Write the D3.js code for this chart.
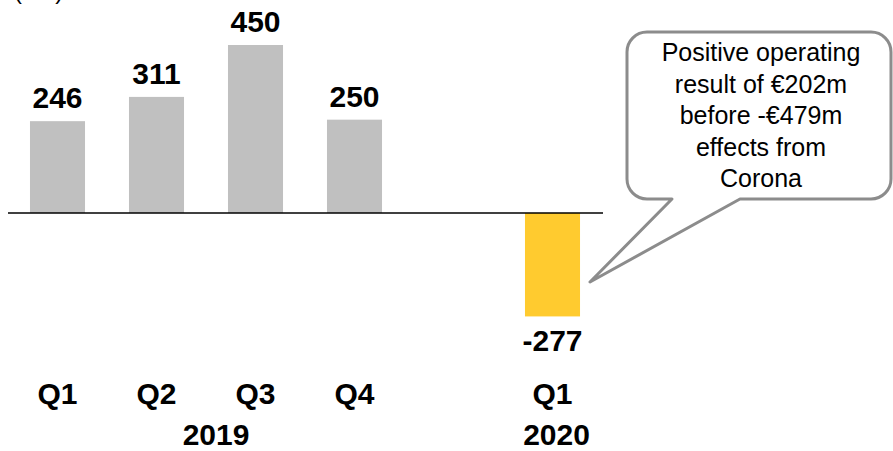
<!DOCTYPE html>
<html>
<head>
<meta charset="utf-8">
<script src="https://cdn.jsdelivr.net/npm/d3@7"></script>
<style>
  html, body { margin: 0; padding: 0; background: #fff; }
  svg { display: block; font-family: "Liberation Sans", Arial, sans-serif; }
</style>
</head>
<body>
<svg id="chart" width="893" height="451"></svg>
<script>
// ---- data ----
const categories = ["Q1 2019", "Q2 2019", "Q3 2019", "Q4 2019", "gap", "Q1 2020"];
const quarterLabels = ["Q1", "Q2", "Q3", "Q4", "", "Q1"];
const values = [246, 311, 450, 250, null, -277];
const valueLabels = ["246", "311", "450", "250", "", "-277"];
const years = [
  { label: "2019", from: "Q1 2019", to: "Q4 2019" },
  { label: "2020", from: "Q1 2020", to: "Q1 2020" }
];
const unitLabel = "(€m)";
const calloutLines = ["Positive operating", "result of €202m", "before -€479m", "effects from", "Corona"];

// ---- layout ----
const svg = d3.select("#chart");
const x = d3.scaleBand().domain(categories).range([8, 602]).paddingInner(0.444).paddingOuter(0.222);
const y = d3.scaleLinear().domain([0, 450]).range([213, 45]);

const colorFor = c => c === "Q1 2020" ? "#ffcb2f" : "#c0c0c0";

// unit label (mostly cut off at top)
svg.append("text").attr("x", 14).attr("y", -1)
  .attr("font-size", 24).attr("fill", "#000").text(unitLabel);

const data = categories.map((c, i) => ({ c, v: values[i], lab: valueLabels[i], q: quarterLabels[i] }));
const barsData = data.filter(d => d.v !== null);

// bars
svg.selectAll("rect.bar").data(barsData).enter().append("rect")
  .attr("class", "bar")
  .attr("x", d => x(d.c))
  .attr("width", x.bandwidth())
  .attr("y", d => Math.min(y(d.v), y(0)))
  .attr("height", d => Math.abs(y(d.v) - y(0)))
  .attr("fill", d => colorFor(d.c));

// baseline
svg.append("line")
  .attr("x1", 8).attr("x2", 603)
  .attr("y1", y(0)).attr("y2", y(0))
  .attr("stroke", "#000").attr("stroke-width", 1.5);

// value labels
svg.selectAll("text.val").data(barsData).enter().append("text")
  .attr("class", "val")
  .attr("x", d => x(d.c) + x.bandwidth() / 2)
  .attr("y", d => d.v >= 0 ? y(d.v) - 13 : y(d.v) + 35)
  .attr("text-anchor", "middle")
  .attr("font-size", 30).attr("font-weight", "bold").attr("fill", "#000")
  .text(d => d.lab);

// quarter labels
svg.selectAll("text.q").data(data.filter(d => d.q)).enter().append("text")
  .attr("class", "q")
  .attr("x", d => x(d.c) + x.bandwidth() / 2)
  .attr("y", 404)
  .attr("text-anchor", "middle")
  .attr("font-size", 30).attr("font-weight", "bold").attr("fill", "#000")
  .text(d => d.q);

// year labels
const yearOffsets = { "2019": 10, "2020": 4 };
svg.selectAll("text.yr").data(years).enter().append("text")
  .attr("class", "yr")
  .attr("x", d => (x(d.from) + x(d.to) + x.bandwidth()) / 2 + yearOffsets[d.label])
  .attr("y", 445)
  .attr("text-anchor", "middle")
  .attr("font-size", 30).attr("font-weight", "bold").attr("fill", "#000")
  .text(d => d.label);

// callout
const bx0 = 627, bx1 = 891, by0 = 32, by1 = 199, r = 20;
const tip = [590, 282], tailL = 672, tailR = 740;
const p = d3.path();
p.moveTo(tailL, by1);
p.lineTo(tip[0], tip[1]);
p.lineTo(tailR, by1);
p.lineTo(bx1 - r, by1);
p.arcTo(bx1, by1, bx1, by1 - r, r);
p.lineTo(bx1, by0 + r);
p.arcTo(bx1, by0, bx1 - r, by0, r);
p.lineTo(bx0 + r, by0);
p.arcTo(bx0, by0, bx0, by0 + r, r);
p.lineTo(bx0, by1 - r);
p.arcTo(bx0, by1, bx0 + r, by1, r);
p.closePath();
svg.append("path").attr("d", p.toString())
  .attr("fill", "#fff").attr("stroke", "#8c8c8c").attr("stroke-width", 3)
  .attr("stroke-linejoin", "round");

svg.selectAll("text.call").data(calloutLines).enter().append("text")
  .attr("class", "call")
  .attr("x", 761)
  .attr("y", (d, i) => 61 + i * 31.5)
  .attr("text-anchor", "middle")
  .attr("font-size", 25).attr("fill", "#000")
  .text(d => d);
</script>
</body>
</html>
